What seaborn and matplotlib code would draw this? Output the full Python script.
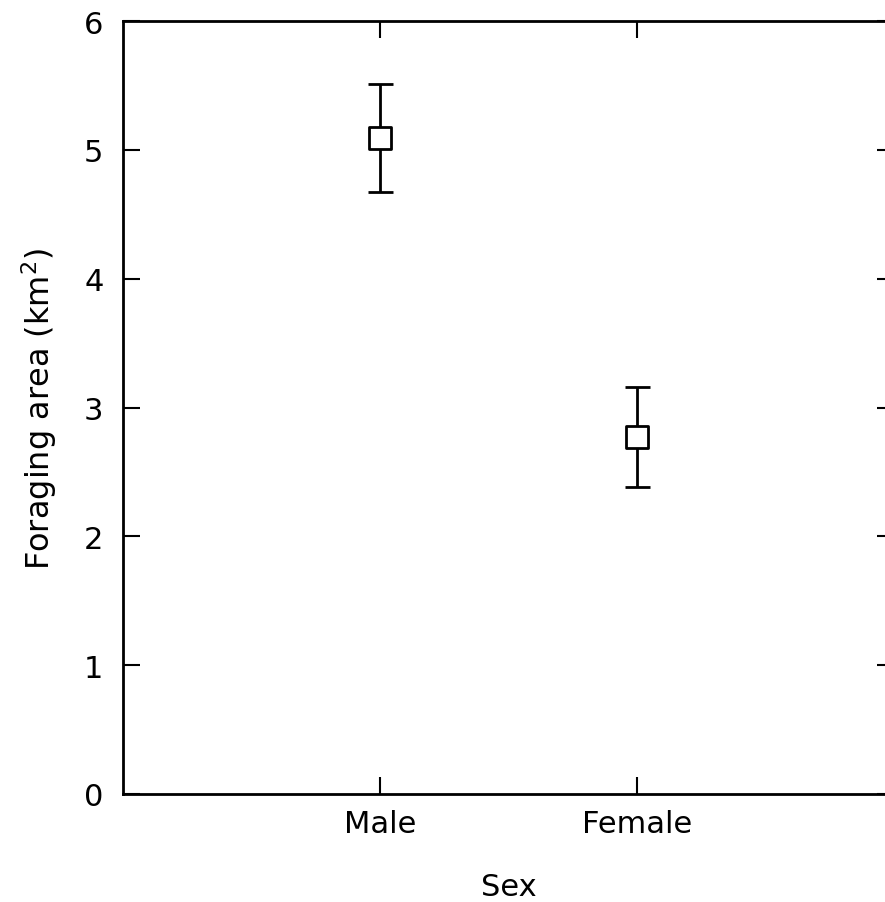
import matplotlib
matplotlib.use("Agg")
import matplotlib.pyplot as plt
import seaborn as sns
import pandas as pd

# Data
sexes = ["Male", "Female"]
means = [5.09, 2.77]
errors = [0.42, 0.39]

df = pd.DataFrame({"sex": sexes, "area": means, "err": errors})
df["pos"] = range(len(df))

sns.set_style("ticks")
plt.rcParams["font.family"] = ["DejaVu Sans"]
plt.rcParams["text.color"] = "black"
plt.rcParams["axes.labelcolor"] = "black"
plt.rcParams["xtick.color"] = "black"
plt.rcParams["ytick.color"] = "black"

fig = plt.figure(figsize=(8.85, 9.03), dpi=100)
# right spine falls just outside the image, as in the original scan
ax = fig.add_axes([123 / 885, 108 / 903, 771 / 885, 773 / 903])

ax.errorbar(df["pos"], df["area"], yerr=df["err"], fmt="none",
            ecolor="black", elinewidth=2, capsize=9, capthick=2, zorder=2)
sns.scatterplot(data=df, x="pos", y="area", marker="s", s=260,
                facecolor="white", edgecolor="black", linewidth=2,
                ax=ax, zorder=3, legend=False)

ax.set_xlim(-1, 2)
ax.set_ylim(0, 6)
ax.set_xticks(df["pos"])
ax.set_xticklabels(sexes)
ax.set_yticks(range(0, 7))
ax.tick_params(direction="in", length=12, width=1.5, labelsize=22,
               top=True, right=True)
ax.tick_params(axis="x", pad=11)
ax.tick_params(axis="y", pad=14)
for s in ax.spines.values():
    s.set_linewidth(2)
    s.set_color("black")
ax.set_xlabel("Sex", fontsize=22, labelpad=24)
ax.set_ylabel("Foraging area (km$^2$)", fontsize=23, labelpad=18)

plt.savefig("out.png", dpi=100)
